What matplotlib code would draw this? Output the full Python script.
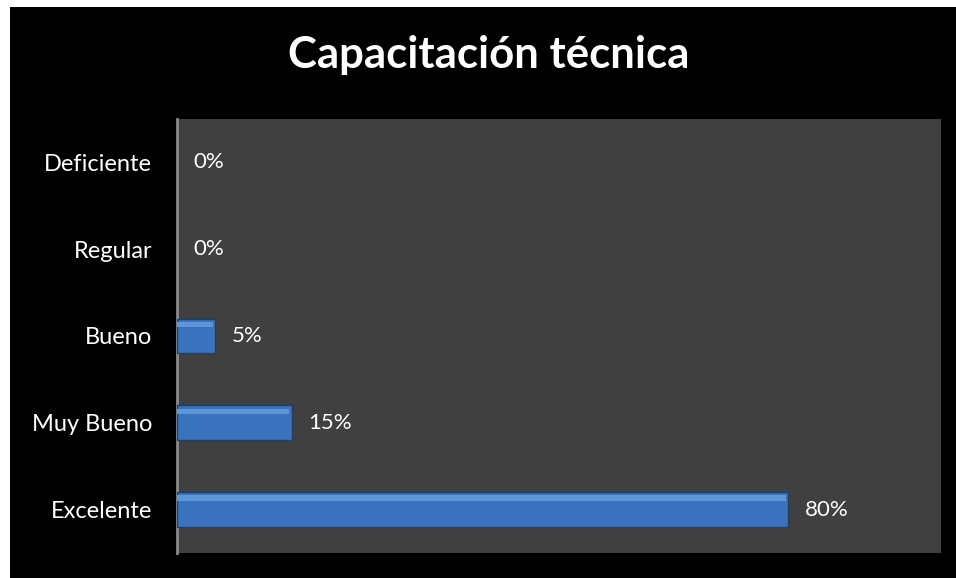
import matplotlib
matplotlib.use("Agg")
import matplotlib.pyplot as plt
from matplotlib.patches import Rectangle

categories = ["Excelente", "Muy Bueno", "Bueno", "Regular", "Deficiente"]
values = [80, 15, 5, 0, 0]
labels = ["80%", "15%", "5%", "0%", "0%"]

plt.rcParams['font.family'] = ['Lato', 'DejaVu Sans']

fig = plt.figure(figsize=(9.56, 5.78), dpi=100, facecolor='white')
fig.patches.append(Rectangle((10/956, 0), 1 - 10/956, 1 - 7/578, transform=fig.transFigure,
                             facecolor='black', edgecolor='none', zorder=-10))

ax = fig.add_axes([177/956, 1 - 553/578, (941 - 177)/956, (553 - 119)/578])
ax.set_facecolor('#404040')

y = list(range(len(categories)))
h = 0.40
lw = [1.0 if v > 0 else 0 for v in values]
ax.barh(y, values, height=h, color='#3b72bd', edgecolor='#1f3f6e', linewidth=lw, zorder=3)
# soft highlight strip on top of each bar (bevel look)
ax.barh([v + h*0.33 for v in y], [max(v - 0.3, 0) for v in values], height=h*0.16,
        color='#5f96d8', edgecolor='none', zorder=4)

for yi, v, lab in zip(y, values, labels):
    ax.annotate(lab, xy=(v, yi), xytext=(12, 0), textcoords='offset points',
                va='center', ha='left', color='white', fontsize=16)

ax.set_xlim(0, 100)
ax.set_ylim(-0.5, len(categories) - 0.5)
ax.set_yticks(y)
ax.set_yticklabels(categories, color='white', fontsize=17)
ax.tick_params(axis='y', length=0, pad=18)
ax.set_xticks([])
for s in ['top', 'right', 'bottom']:
    ax.spines[s].set_visible(False)
ax.spines['left'].set_color('#8a8a8a')
ax.spines['left'].set_linewidth(2)

fig.text(489/956, 1 - 55/578, "Capacitación técnica", ha='center', va='center',
         color='white', fontsize=31.5, fontweight='bold')

fig.savefig("out.png", dpi=100, facecolor='white')
